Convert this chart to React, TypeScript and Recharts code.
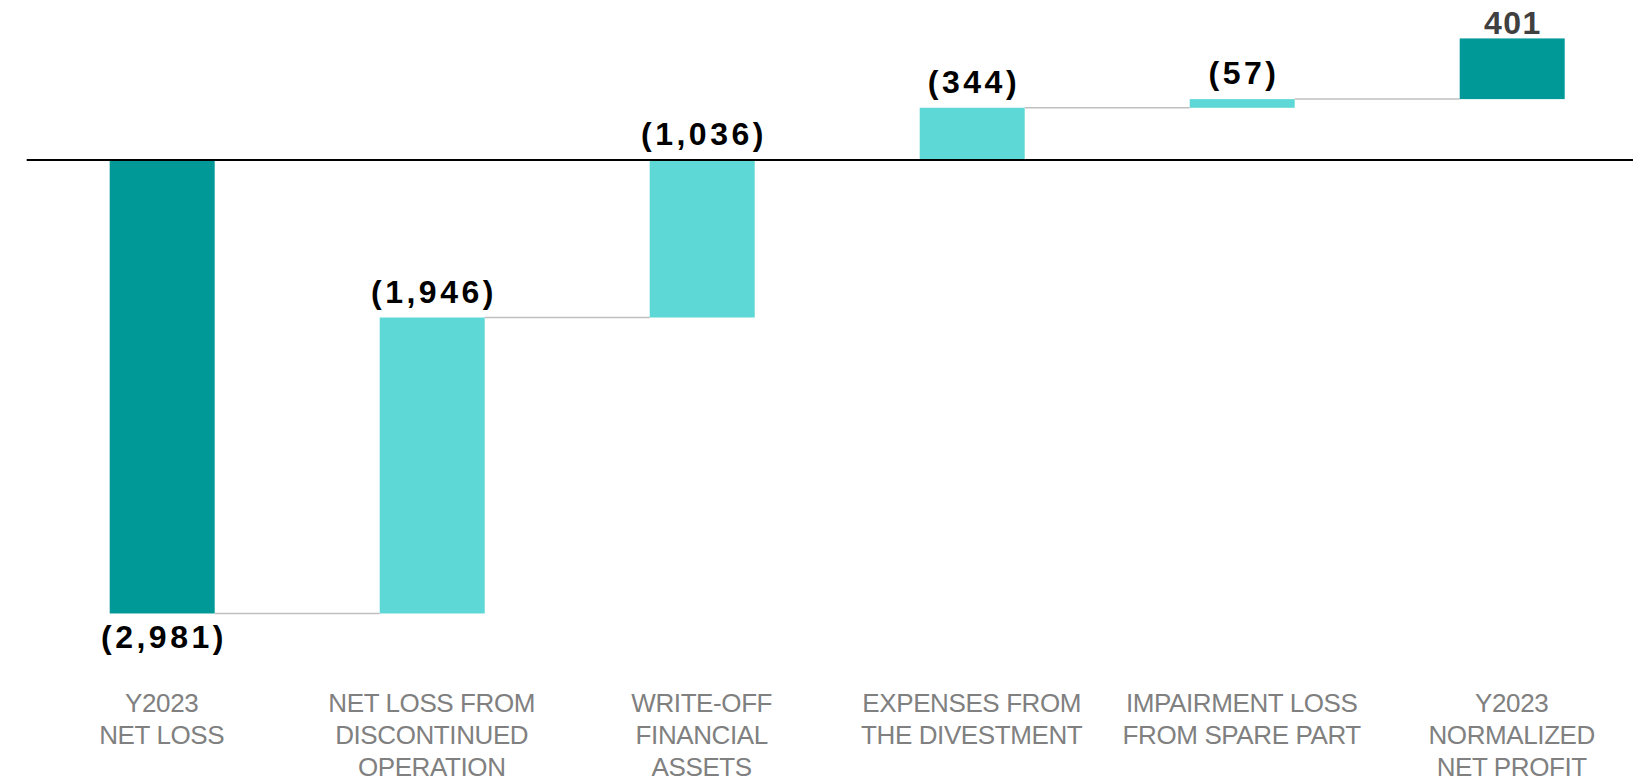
import { Bar, BarChart, ReferenceLine, XAxis, YAxis } from "recharts";

const CATEGORIES = [
  "Y2023\nNET LOSS",
  "NET LOSS FROM\nDISCONTINUED\nOPERATION",
  "WRITE-OFF\nFINANCIAL\nASSETS",
  "EXPENSES FROM\nTHE DIVESTMENT",
  "IMPAIRMENT LOSS\nFROM SPARE PART",
  "Y2023\nNORMALIZED\nNET PROFIT",
];
const LABELS = ["(2,981)", "(1,946)", "(1,036)", "(344)", "(57)", "401"];
const STARTS = [0, -2981, -1035, 0, 344, 401];
const ENDS = [-2981, -1035, 0, 344, 401, 800];
const KINDS = ["total", "change", "change", "change", "change", "total"];

const W = 1641;
const H = 783;
const MARGIN = { top: 8, right: 2.3, bottom: 0, left: 18.7 };
const STEP = (W - MARGIN.left - MARGIN.right) / CATEGORIES.length;

const DARK = "#009997";
const LIGHT = "#5dd8d6";
const FONT = "'Liberation Sans', Arial, sans-serif";

const data = CATEGORIES.map((name, i) => ({
  name,
  range: [Math.min(STARTS[i], ENDS[i]), Math.max(STARTS[i], ENDS[i])],
  start: STARTS[i],
  end: ENDS[i],
  label: LABELS[i],
  kind: KINDS[i],
  last: i === CATEGORIES.length - 1,
}));

// rect + connector to the next bar + value label
function StepBar(props: any) {
  const { x, y, width, height, payload } = props;
  const goesDown = payload.end < payload.start;
  const levelY = goesDown ? y + height : y;
  const below = payload.kind === "total" && payload.end < 0;
  const labelY = below ? y + height + 35 : payload.kind === "total" ? y - 4 : y - 15;
  const spacing = payload.last ? 1.5 : 3.5;
  return (
    <g>
      <rect x={x} y={y} width={width} height={height} fill={payload.kind === "total" ? DARK : LIGHT} />
      {!payload.last && (
        <line x1={x + width} x2={x + STEP} y1={levelY} y2={levelY} stroke="#c0c0c0" strokeWidth={1.5} />
      )}
      <text
        x={x + width / 2 + spacing / 2}
        y={labelY}
        textAnchor="middle"
        fontFamily={FONT}
        fontWeight="bold"
        fontSize={32}
        letterSpacing={spacing}
        fill={payload.last ? "#404040" : "#000"}
      >
        {payload.label}
      </text>
    </g>
  );
}

function CategoryTick({ x, y, payload }: any) {
  const lines = String(payload.value).split("\n");
  return (
    <g transform={`translate(${x},${y})`}>
      {lines.map((l, i) => (
        <text
          key={i}
          x={0}
          y={42 + i * 32}
          textAnchor="middle"
          fontFamily={FONT}
          fontSize={26}
          letterSpacing={-0.4}
          fill="#808080"
        >
          {l}
        </text>
      ))}
    </g>
  );
}

export default function App() {
  return (
    <div style={{ width: 1625, height: H, marginTop: -8, overflow: "hidden", background: "#fff" }}>
      <BarChart width={W} height={H} data={data} margin={MARGIN} barSize={105}>
        <XAxis
          dataKey="name"
          axisLine={false}
          tickLine={false}
          interval={0}
          height={121}
          tick={<CategoryTick />}
        />
        <YAxis hide domain={[-3300, 1000]} allowDataOverflow />
        <Bar dataKey="range" shape={<StepBar />} isAnimationActive={false} />
        <ReferenceLine y={0} stroke="#000" strokeWidth={2} />
      </BarChart>
    </div>
  );
}
